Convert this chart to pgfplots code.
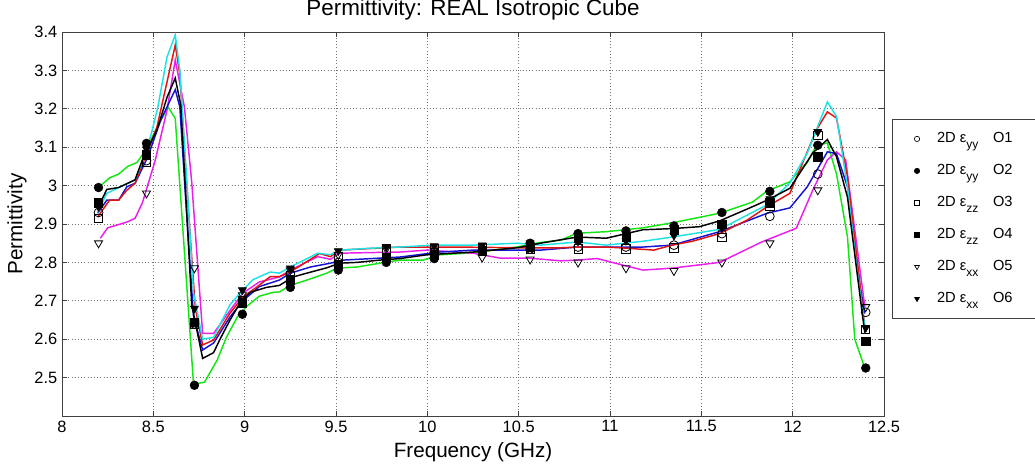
\documentclass[border=0pt]{standalone}
\usepackage{pgfplots}
\pgfplotsset{compat=1.18}
\usepackage{fontspec}
\setmainfont{Liberation Sans}
\definecolor{lgreen}{RGB}{20,230,20}
\definecolor{lcyan}{RGB}{30,225,230}
\definecolor{lred}{RGB}{225,20,20}
\definecolor{lblue}{RGB}{20,20,215}
\definecolor{lmag}{RGB}{235,30,235}
\newcommand{\lent}[2]{\makebox[74pt][l]{2D ε\raisebox{-4pt}{\fontsize{9}{9}\selectfont #1}\hspace{11pt}#2}}
\begin{document}
\begin{tikzpicture}
\path[use as bounding box] (0pt,0pt) rectangle (776.25pt,348.75pt);
\begin{axis}[
  at={(46.5pt,36.75pt)}, anchor=south west,
  scale only axis, width=616.5pt, height=288pt,
  xmin=8, xmax=12.5, ymin=2.4, ymax=3.4,
  xtick={8,8.5,9,9.5,10,10.5,11,11.5,12,12.5},
  ytick={2.5,2.6,2.7,2.8,2.9,3,3.1,3.2,3.3,3.4},
  /pgf/number format/assume math mode=true,
  ticklabel style={font=\fontsize{12.3}{14}\selectfont},
  tick align=inside, major tick length=3.75pt,
  tick style={black!75, line width=0.6pt},
  axis line style={black!75, line width=0.6pt},
  grid=major, major grid style={dotted, black!55, line width=0.6pt},
  clip=false,
  legend style={at={(1.0097,0.773)}, anchor=north west, draw=black!75, line width=0.6pt,
    font=\fontsize{11}{13}\selectfont, inner xsep=0pt, inner ysep=6.5pt,
    row sep=8pt, column sep=9pt,
    nodes={inner sep=0pt, text height=11pt, text depth=5pt}},
  legend cell align=left,
  legend image code/.code={\path[draw=none,fill=none] (-18.5pt,0pt) -- (6pt,0pt);
    \draw[#1,mark size=2pt,line width=0.5pt] plot coordinates {(0pt,0pt)};},
]
% ---- lines ----
\addplot[lgreen, line width=1.1pt, forget plot] coordinates {(8.2,2.995)(8.26,3.02)(8.31,3.03)(8.36,3.05)(8.41,3.06)(8.44,3.08)(8.47,3.105)(8.52,3.15)(8.58,3.205)(8.62,3.175)(8.72,2.483)(8.78,2.488)(8.85,2.546)(8.90,2.605)(8.96,2.658)(9.01,2.685)(9.08,2.712)(9.155,2.722)(9.19,2.723)(9.25,2.74)(9.34,2.754)(9.45,2.772)(9.505,2.785)(9.615,2.788)(9.74,2.798)(9.85,2.806)(9.976,2.806)(10.07,2.82)(10.25,2.825)(10.49,2.84)(10.62,2.852)(10.73,2.858)(10.82,2.876)(10.98,2.88)(11.18,2.89)(11.34,2.903)(11.6,2.928)(11.78,2.957)(11.86,2.986)(11.985,3.01)(12.02,3.03)(12.08,3.06)(12.13,3.105)(12.19,3.111)(12.24,3.03)(12.30,2.867)(12.34,2.6)(12.395,2.525)};
\addplot[lmag, line width=1.1pt, forget plot] coordinates {(8.21,2.863)(8.25,2.89)(8.355,2.905)(8.40,2.915)(8.44,2.955)(8.51,3.065)(8.575,3.197)(8.62,3.327)(8.67,3.205)(8.71,3.01)(8.77,2.615)(8.83,2.615)(8.92,2.675)(8.99,2.72)(9.08,2.749)(9.19,2.762)(9.25,2.78)(9.40,2.815)(9.47,2.808)(9.52,2.824)(9.85,2.827)(10.0,2.832)(10.25,2.824)(10.40,2.811)(10.56,2.811)(10.73,2.804)(10.82,2.806)(10.93,2.81)(11.07,2.793)(11.18,2.78)(11.34,2.785)(11.6,2.80)(11.83,2.853)(12.02,2.889)(12.11,2.988)(12.19,3.067)(12.24,3.088)(12.29,3.067)(12.395,2.684)};
\addplot[lblue, line width=1.1pt, forget plot] coordinates {(8.195,2.928)(8.245,2.962)(8.31,2.962)(8.355,2.997)(8.40,3.006)(8.47,3.075)(8.54,3.17)(8.62,3.25)(8.645,3.205)(8.675,2.98)(8.72,2.66)(8.77,2.572)(8.83,2.59)(8.92,2.658)(8.99,2.70)(9.08,2.737)(9.19,2.754)(9.25,2.772)(9.36,2.788)(9.47,2.798)(9.54,2.806)(9.85,2.814)(10.07,2.827)(10.25,2.832)(10.49,2.832)(10.62,2.832)(10.82,2.84)(10.98,2.84)(11.18,2.84)(11.34,2.845)(11.6,2.88)(11.86,2.928)(11.985,2.942)(12.08,2.997)(12.19,3.088)(12.24,3.083)(12.30,2.997)(12.37,2.736)(12.395,2.667)};
\addplot[lred, line width=1.1pt, forget plot] coordinates {(8.195,2.918)(8.26,2.962)(8.31,2.962)(8.355,2.988)(8.40,3.006)(8.45,3.067)(8.52,3.153)(8.62,3.366)(8.645,3.29)(8.69,2.95)(8.73,2.68)(8.77,2.585)(8.83,2.598)(8.92,2.668)(8.99,2.71)(9.07,2.737)(9.14,2.763)(9.19,2.763)(9.25,2.775)(9.41,2.823)(9.47,2.815)(9.52,2.832)(9.85,2.84)(10.16,2.84)(10.52,2.838)(10.73,2.838)(10.82,2.84)(10.98,2.84)(11.09,2.837)(11.24,2.832)(11.34,2.845)(11.45,2.855)(11.6,2.875)(11.75,2.91)(11.86,2.945)(11.985,2.98)(12.13,3.145)(12.19,3.192)(12.24,3.176)(12.30,3.023)(12.395,2.632)};
\addplot[lcyan, line width=1.1pt, forget plot] coordinates {(8.195,2.93)(8.245,2.98)(8.32,2.997)(8.40,3.015)(8.45,3.075)(8.49,3.137)(8.525,3.205)(8.575,3.335)(8.62,3.392)(8.645,3.3)(8.685,3.0)(8.72,2.72)(8.77,2.60)(8.83,2.605)(8.92,2.69)(8.975,2.72)(9.045,2.755)(9.14,2.775)(9.19,2.772)(9.25,2.788)(9.40,2.824)(9.47,2.82)(9.52,2.832)(9.69,2.837)(9.85,2.84)(10.03,2.845)(10.25,2.845)(10.49,2.85)(10.62,2.845)(10.82,2.853)(10.98,2.845)(11.18,2.855)(11.34,2.866)(11.6,2.886)(11.86,2.95)(11.985,3.007)(12.08,3.085)(12.19,3.218)(12.24,3.18)(12.30,2.997)(12.35,2.79)(12.395,2.632)};
\addplot[black, line width=1.1pt, forget plot] coordinates {(8.195,2.94)(8.245,2.99)(8.31,2.995)(8.355,3.005)(8.40,3.015)(8.44,3.067)(8.52,3.145)(8.575,3.23)(8.62,3.28)(8.65,3.21)(8.673,3.015)(8.71,2.69)(8.77,2.55)(8.83,2.565)(8.865,2.60)(8.92,2.65)(8.975,2.695)(9.03,2.722)(9.12,2.735)(9.19,2.74)(9.265,2.762)(9.34,2.772)(9.45,2.786)(9.52,2.798)(9.615,2.80)(9.74,2.806)(9.85,2.81)(10.0,2.82)(10.25,2.827)(10.49,2.838)(10.62,2.85)(10.82,2.866)(10.98,2.863)(11.18,2.885)(11.34,2.888)(11.49,2.893)(11.6,2.908)(11.78,2.945)(11.86,2.962)(11.985,2.993)(12.11,3.085)(12.19,3.12)(12.24,3.075)(12.30,2.97)(12.38,2.67)(12.395,2.617)};
% ---- markers ----
\addplot[only marks, mark=o, mark size=3.3pt, black, line width=0.6pt] coordinates {(8.2,2.93)(8.4625,3.065)(8.725,2.64)(8.9875,2.70)(9.25,2.77)(9.5125,2.80)(9.775,2.81)(10.0375,2.825)(10.3,2.83)(10.5625,2.835)(10.825,2.84)(11.0875,2.84)(11.35,2.845)(11.6125,2.875)(11.875,2.92)(12.1375,3.03)(12.4,2.67)};
\addlegendentry{\lent{yy}{O1}}
\addplot[only marks, mark=*, mark size=3.3pt, black] coordinates {(8.2,2.995)(8.4625,3.11)(8.725,2.48)(8.9875,2.665)(9.25,2.735)(9.5125,2.78)(9.775,2.80)(10.0375,2.81)(10.3,2.83)(10.5625,2.85)(10.825,2.875)(11.0875,2.882)(11.35,2.895)(11.6125,2.93)(11.875,2.985)(12.1375,3.105)(12.4,2.525)};
\addlegendentry{\lent{yy}{O2}}
\addplot[only marks, mark=square, mark size=3.1pt, black, line width=0.6pt] coordinates {(8.2,2.915)(8.4625,3.06)(8.725,2.64)(8.9875,2.70)(9.25,2.765)(9.5125,2.815)(9.775,2.835)(10.0375,2.835)(10.3,2.84)(10.5625,2.835)(10.825,2.835)(11.0875,2.835)(11.35,2.838)(11.6125,2.865)(11.875,2.945)(12.1375,3.13)(12.4,2.625)};
\addlegendentry{\lent{zz}{O3}}
\addplot[only marks, mark=square*, mark size=3.1pt, black] coordinates {(8.2,2.955)(8.4625,3.08)(8.725,2.645)(8.9875,2.695)(9.25,2.755)(9.5125,2.795)(9.775,2.81)(10.0375,2.82)(10.3,2.83)(10.5625,2.84)(10.825,2.862)(11.0875,2.865)(11.35,2.885)(11.6125,2.90)(11.875,2.955)(12.1375,3.075)(12.4,2.595)};
\addlegendentry{\lent{zz}{O4}}
\addplot[only marks, mark=triangle, mark options={rotate=180}, mark size=3.5pt, black, line width=0.6pt] coordinates {(8.2,2.85)(8.4625,2.98)(8.725,2.785)(8.9875,2.715)(9.25,2.78)(9.5125,2.82)(9.775,2.835)(10.0375,2.83)(10.3,2.813)(10.5625,2.808)(10.825,2.80)(11.0875,2.785)(11.35,2.778)(11.6125,2.80)(11.875,2.85)(12.1375,2.988)(12.4,2.684)};
\addlegendentry{\lent{xx}{O5}}
\addplot[only marks, mark=triangle*, mark options={rotate=180}, mark size=3.5pt, black] coordinates {(8.2,2.945)(8.4625,3.095)(8.725,2.68)(8.9875,2.728)(9.25,2.785)(9.5125,2.83)(9.775,2.84)(10.0375,2.843)(10.3,2.845)(10.5625,2.85)(10.825,2.855)(11.0875,2.857)(11.35,2.87)(11.6125,2.89)(11.875,2.965)(12.1375,3.14)(12.4,2.63)};
\addlegendentry{\lent{xx}{O6}}
\end{axis}
\node at (354.75pt,341.25pt) {\fontsize{16.8}{18}\selectfont Permittivity: REAL Isotropic Cube};
\node at (354.75pt,9.75pt) {\fontsize{15.5}{17}\selectfont Frequency (GHz)};
\node[rotate=90] at (12.75pt,180.75pt) {\fontsize{15.5}{17}\selectfont Permittivity};
\end{tikzpicture}
\end{document}
